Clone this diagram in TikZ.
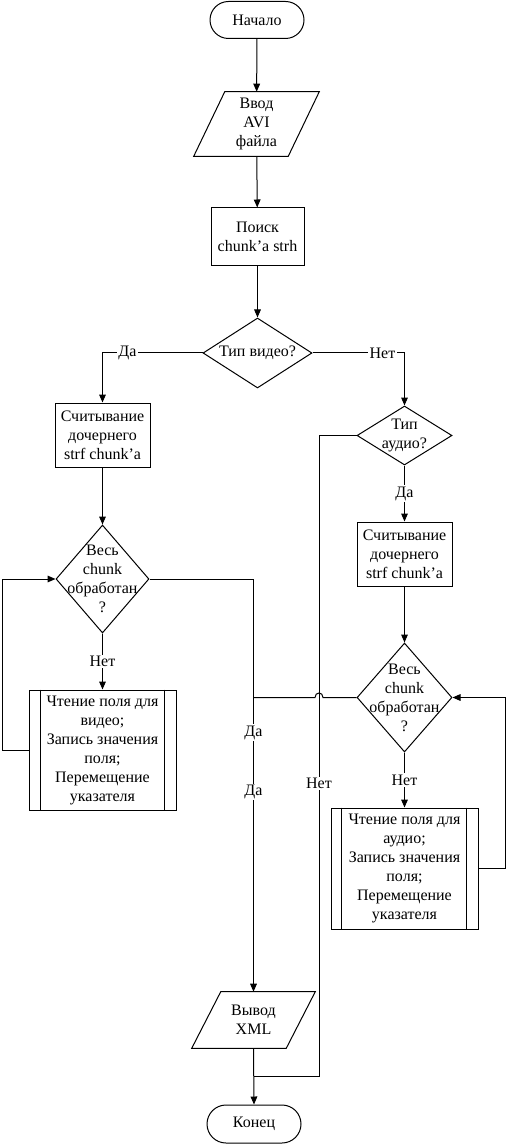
\documentclass[tikz,border=0pt]{standalone}
\usepackage{fontspec}
\setmainfont{Liberation Serif}
\usetikzlibrary{shapes.geometric,shapes.misc,arrows.meta,calc}
\begin{document}
\begin{tikzpicture}[x=0.75pt,y=-0.75pt,
 every node/.style={font=\fontsize{12pt}{14.25pt}\selectfont, align=center, inner sep=0pt},
 line/.style={draw=black, line width=0.75pt},
 arr/.style={line, -{Triangle[length=6pt,width=5pt]}},
 term/.style={rounded rectangle, draw, line width=0.75pt},
 proc/.style={rectangle, draw, line width=0.75pt},
 iobox/.style={rectangle},
 dec/.style={diamond, draw, line width=0.75pt},
 lbl/.style={fill=white, inner sep=1pt}]
\useasboundingbox (0,0) rectangle (507,1144);

% nodes
\node[term, minimum width=70.5pt, minimum height=27.75pt] (start) at (257,20) {Начало};
\node[iobox, minimum width=93.75pt, minimum height=48pt] (in) at (256.5,124) {Ввод\\AVI\\файла};
\draw[line] ($(in.north west)+(31,0)$) -- (in.north east) -- ($(in.south east)+(-31,0)$) -- (in.south west) -- cycle;
\node[proc, minimum width=69.75pt, minimum height=43.5pt] (search) at (257.5,237) {Поиск\\chunk’a strh};
\node[dec, minimum width=81.75pt, minimum height=52.5pt] (dv) at (257.5,353) {};
\node (dvt) at (dv) {Тип видео?};

\node[proc, minimum width=71.25pt, minimum height=48pt] (lrect) at (102.5,435) {Считывание\\дочернего\\strf chunk’a};
\node[dec, minimum width=69.75pt, minimum height=81pt] (ld) at (102.5,579) {};
\node (ldt) at (ld) {Весь\\chunk\\обработан\\?};
\node[proc, minimum width=110.25pt, minimum height=90pt] (lproc) at (102.5,750) {Чтение поля для\\видео;\\Запись значения\\поля;\\Перемещение\\указателя};
\draw[line] ($(lproc.north west)+(12,0)$) -- ($(lproc.south west)+(12,0)$);
\draw[line] ($(lproc.north east)+(-12,0)$) -- ($(lproc.south east)+(-12,0)$);

\node[dec, minimum width=71.25pt, minimum height=44.25pt] (da) at (404.5,435.5) {};
\node (dat) at (da) {Тип\\аудио?};
\node[proc, minimum width=71.25pt, minimum height=48pt] (rrect) at (404.5,554) {Считывание\\дочернего\\strf chunk’a};
\node[dec, minimum width=71.25pt, minimum height=81.75pt] (rd) at (404.5,697.5) {};
\node (rdt) at (rd) {Весь\\chunk\\обработан\\?};
\node[proc, minimum width=110.25pt, minimum height=90.75pt] (rproc) at (404.5,868.5) {Чтение поля для\\аудио;\\Запись значения\\поля;\\Перемещение\\указателя};
\draw[line] ($(rproc.north west)+(11,0)$) -- ($(rproc.south west)+(11,0)$);
\draw[line] ($(rproc.north east)+(-12,0)$) -- ($(rproc.south east)+(-12,0)$);

\node[iobox, minimum width=92.25pt, minimum height=42pt] (out) at (253.5,1020) {Вывод\\XML};
\draw[line] ($(out.north west)+(29,0)$) -- (out.north east) -- ($(out.south east)+(-29,0)$) -- (out.south west) -- cycle;
\node[term, minimum width=70.5pt, minimum height=28.5pt] (end) at (254,1124) {Конец};

% helper coordinates
\coordinate (nb) at (319,1076);
\coordinate (j1) at (out.south |- nb);
\coordinate (ll) at (2,750);
\coordinate (rl) at (505,868.5);

% connectors
\draw[arr] (start) -- (in);
\draw[arr] (in) -- (search);
\draw[arr] (search) -- (dv);
\draw[arr] (dv.west) -| node[lbl, pos=0.375] {Да} (lrect.north);
\draw[arr] (dv.east) -| node[lbl, pos=0.38] {Нет} (da.north);
\draw[arr] (lrect) -- (ld);
\draw[arr] (ld.south) -- node[lbl] {Нет} (lproc.north);
\draw[arr] (lproc.west) -- (ll) |- (ld.west);
\draw[arr] (ld.east) -| node[lbl, pos=0.686] {Да} node[lbl, pos=0.758] {Да} (out.north);
\draw[arr] (da.south) -- node[lbl] {Да} (rrect.north);
\draw[arr] (rrect) -- (rd);
\draw[arr] (rd.south) -- node[lbl] {Нет} (rproc.north);
\draw[arr] (rproc.east) -- (rl) |- (rd.east);
\draw[line] (da.west) -- (da.west -| nb) -- node[lbl, pos=0.543] {Нет} (nb) -- (j1);
\draw[line] (rd.west) -- ($(rd.west -| nb)+(4,0)$) .. controls ($(rd.west -| nb)+(4,-6)$) and ($(rd.west -| nb)+(-4,-6)$) .. ($(rd.west -| nb)+(-4,0)$) -- (rd.west -| out.north);
\draw[arr] (out.south) -- (end.north);
\end{tikzpicture}
\end{document}
